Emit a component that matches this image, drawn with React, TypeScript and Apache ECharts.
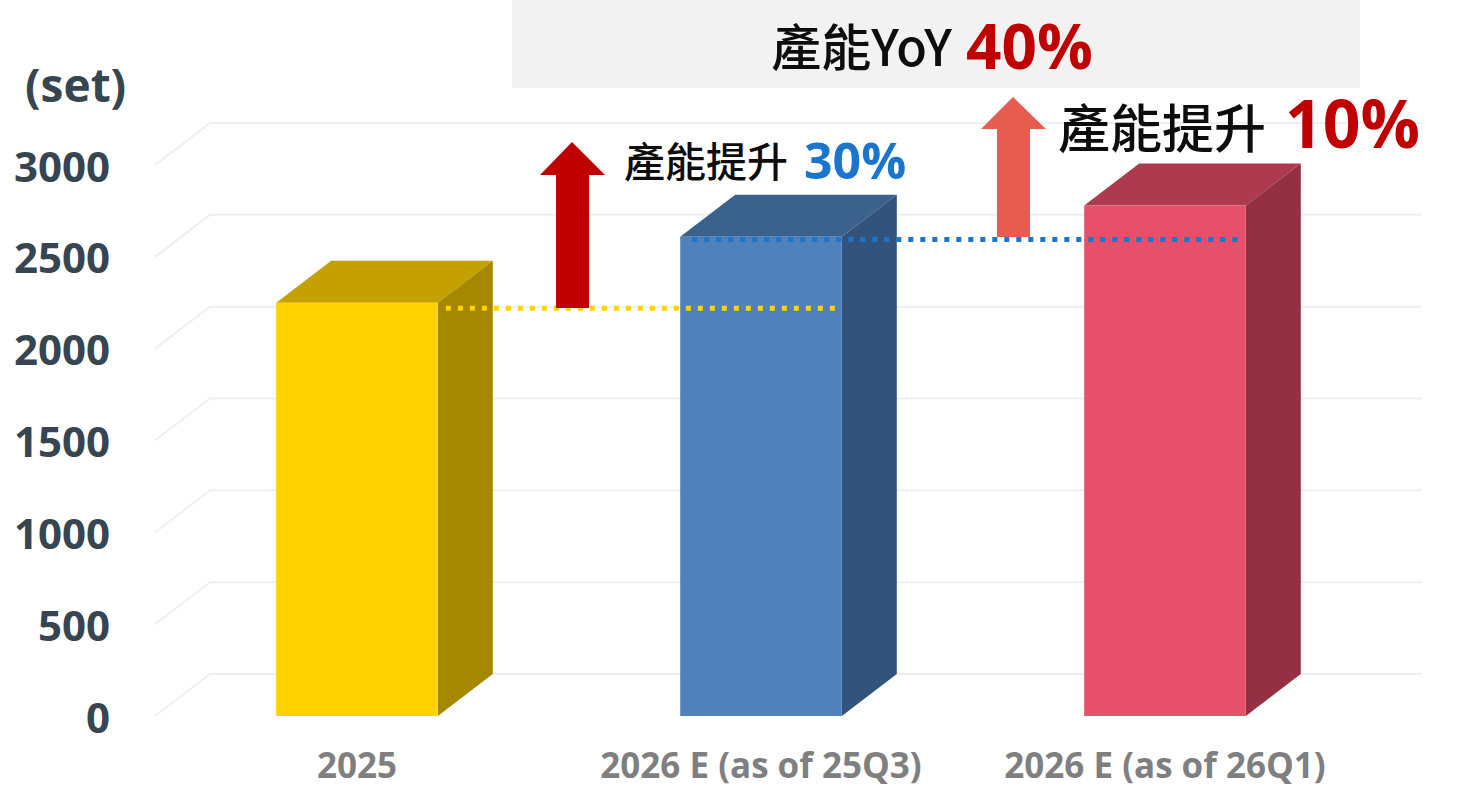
import React, { useEffect, useRef } from "react";
import * as echarts from "echarts";

const categories = ["2025", "2026 E (as of 25Q3)", "2026 E (as of 26Q1)"];
const capacity = [2250, 2610, 2780];
const yTicks = [0, 500, 1000, 1500, 2000, 2500, 3000];
const refLineValues = [2220, 2595];
const refLineFrom = [0, 1];
const refLineTo = [1, 2];

const FRONT = ["#FFD200", "#4F81BD", "#E6506A"];
const TOP = ["#C4A000", "#3A628D", "#AE3A4F"];
const SIDE = ["#A68800", "#32547C", "#933043"];
const REF_COLORS = ["#FFD200", "#1A75CF"];
const REF_START = [0.22, -0.17];
const REF_END = [0.2, 0.19];
const DX = 55;
const DY = -42;
const BAR_RATIO = 0.4;

const LATIN = "'Open Sans', 'Noto Sans', sans-serif";
const CJK = "'Noto Sans CJK TC', 'Noto Sans CJK SC', sans-serif";

export default function App() {
  const ref = useRef<HTMLDivElement>(null);
  useEffect(() => {
    if (!ref.current) return;
    const chart = echarts.init(ref.current, undefined, { renderer: "svg" });
    const option: any = {
      animation: false,
      backgroundColor: "#ffffff",
      grid: { left: 155, right: 90, top: 165, bottom: 73 },
      xAxis: {
        type: "category",
        data: categories,
        axisLine: { show: false },
        axisTick: { show: false },
        axisLabel: {
          interval: 0,
          color: "#7F7F7F",
          fontSize: 35,
          fontWeight: "bold",
          fontFamily: LATIN,
          margin: 31,
          lineHeight: 35,
        },
      },
      yAxis: {
        type: "value",
        min: 0,
        max: 3000,
        interval: 500,
        axisLine: { show: false },
        axisTick: { show: false },
        splitLine: { show: false },
        axisLabel: {
          formatter: (v: number) => String(v),
          color: "#36454F",
          fontSize: 42,
          fontWeight: "bold",
          fontFamily: LATIN,
          margin: 45,
        },
      },
      series: [
        {
          type: "custom",
          name: "grid",
          z: 1,
          silent: true,
          data: yTicks.map((v) => [0, v]),
          encode: { x: 0, y: 1 },
          renderItem: (params: any, api: any) => {
            const cs = params.coordSys;
            const y = api.coord([0, api.value(1)])[1];
            return {
              type: "polyline",
              shape: {
                points: [
                  [cs.x, y],
                  [cs.x + DX, y + DY],
                  [cs.x + cs.width + DX, y + DY],
                ],
              },
              style: { stroke: "#EDF0F3", lineWidth: 2, fill: "none" },
            };
          },
        },
        {
          type: "custom",
          name: "capacity",
          z: 2,
          data: capacity.map((v, i) => [i, v]),
          encode: { x: 0, y: 1 },
          renderItem: (params: any, api: any) => {
            const i = params.dataIndex;
            const top = api.coord([api.value(0), api.value(1)]);
            const base = api.coord([api.value(0), 0]);
            const band = api.size([1, 0])[0];
            const w = band * BAR_RATIO;
            const x0 = top[0] - w / 2;
            const x1 = top[0] + w / 2;
            const yt = top[1];
            const yb = base[1];
            return {
              type: "group",
              children: [
                {
                  type: "polygon",
                  shape: { points: [[x0, yt], [x0 + DX, yt + DY], [x1 + DX, yt + DY], [x1, yt]] },
                  style: { fill: TOP[i] },
                },
                {
                  type: "polygon",
                  shape: { points: [[x1, yt], [x1 + DX, yt + DY], [x1 + DX, yb + DY], [x1, yb]] },
                  style: { fill: SIDE[i] },
                },
                {
                  type: "rect",
                  shape: { x: x0, y: yt, width: w, height: yb - yt },
                  style: { fill: FRONT[i] },
                },
              ],
            };
          },
        },
        {
          type: "custom",
          name: "ref",
          z: 3,
          silent: true,
          data: refLineValues.map((v, i) => [refLineFrom[i], v]),
          encode: { x: 0, y: 1 },
          renderItem: (params: any, api: any) => {
            const i = params.dataIndex;
            const band = api.size([1, 0])[0];
            const p0 = api.coord([refLineFrom[i], refLineValues[i]]);
            const p1 = api.coord([refLineTo[i], refLineValues[i]]);
            return {
              type: "line",
              shape: {
                x1: p0[0] + REF_START[i] * band,
                y1: p0[1],
                x2: p1[0] + REF_END[i] * band,
                y2: p1[1],
              },
              style: { stroke: REF_COLORS[i], lineWidth: 5, lineDash: [5, 7] },
            };
          },
        },
      ],
      graphic: [
        {
          type: "rect",
          shape: { x: 512, y: 0, width: 848, height: 88 },
          style: { fill: "#F2F2F2" },
          z: 10,
        },
        {
          type: "text",
          x: 952,
          y: 44,
          z: 11,
          style: {
            text: "產能YoY",
            font: `500 50px ${CJK}`,
            fill: "#0D0D0D",
            align: "right",
            verticalAlign: "middle",
          },
        },
        {
          type: "text",
          x: 966,
          y: 45,
          z: 11,
          style: {
            text: "40%",
            font: `bold 62px ${LATIN}`,
            fill: "#C00000",
            align: "left",
            verticalAlign: "middle",
          },
        },
        {
          type: "text",
          x: 25,
          y: 84,
          z: 11,
          style: {
            text: "(set)",
            font: `bold 46px ${LATIN}`,
            fill: "#36454F",
            align: "left",
            verticalAlign: "middle",
          },
        },
        {
          type: "polygon",
          z: 11,
          shape: { points: [[572, 142], [605, 175], [589, 175], [589, 308], [556, 308], [556, 175], [540, 175]] },
          style: { fill: "#C00000" },
        },
        {
          type: "polygon",
          z: 11,
          shape: { points: [[1013, 97], [1046, 129], [1030, 129], [1030, 237], [997, 237], [997, 129], [981, 129]] },
          style: { fill: "#E65C4F" },
        },
        {
          type: "text",
          x: 624,
          y: 159,
          z: 11,
          style: {
            text: "產能提升",
            font: `500 41px ${CJK}`,
            fill: "#0D0D0D",
            align: "left",
            verticalAlign: "middle",
          },
        },
        {
          type: "text",
          x: 804,
          y: 160,
          z: 11,
          style: {
            text: "30%",
            font: `bold 50px ${LATIN}`,
            fill: "#1A75CF",
            align: "left",
            verticalAlign: "middle",
          },
        },
        {
          type: "text",
          x: 1058,
          y: 125,
          z: 11,
          style: {
            text: "產能提升",
            font: `500 52px ${CJK}`,
            fill: "#0D0D0D",
            align: "left",
            verticalAlign: "middle",
          },
        },
        {
          type: "text",
          x: 1285,
          y: 122,
          z: 11,
          style: {
            text: "10%",
            font: `bold 66px ${LATIN}`,
            fill: "#C00000",
            align: "left",
            verticalAlign: "middle",
          },
        },
      ],
    };
    chart.setOption(option);
    return () => chart.dispose();
  }, []);
  return (
    <div
      ref={ref}
      style={{ position: "fixed", left: 0, top: 0, width: 1457, height: 789 }}
    />
  );
}
